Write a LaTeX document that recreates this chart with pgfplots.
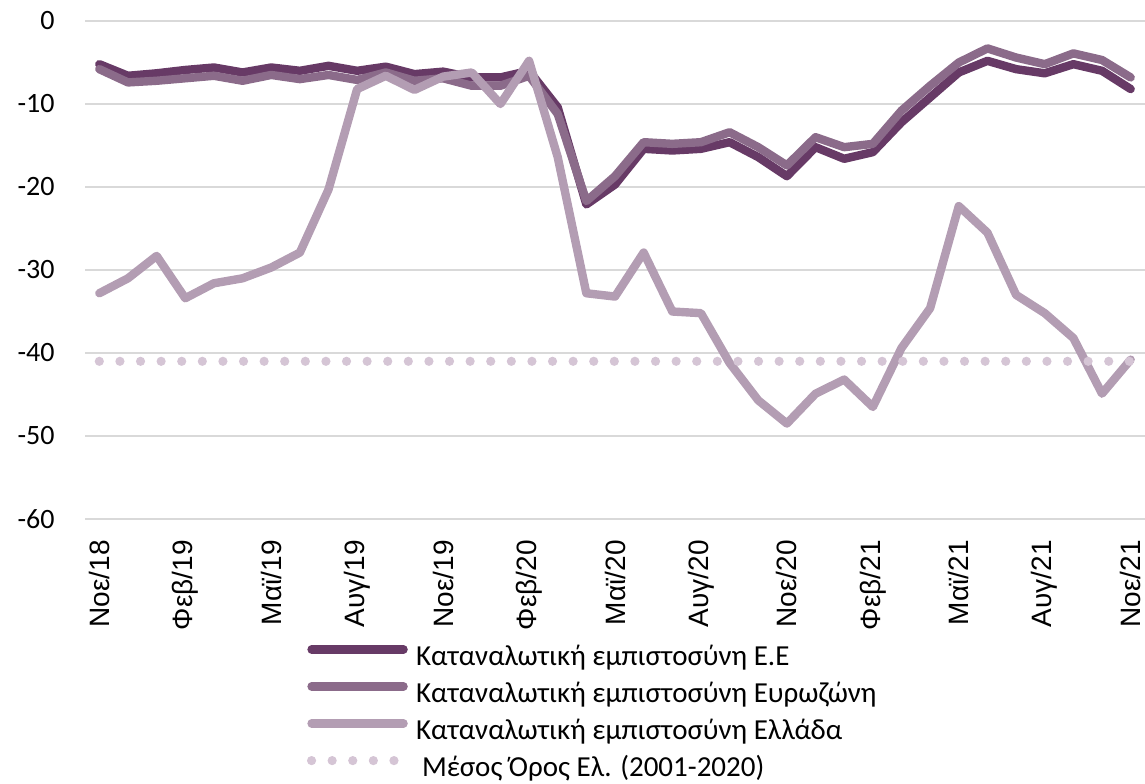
\documentclass[border=0pt]{standalone}
\usepackage{pgfplots}
\pgfplotsset{compat=1.18}
\usepackage{pgfplotstable}
\usepackage{fontspec}
\setmainfont{Carlito}
\newfontfamily\arialf{Liberation Sans}
\definecolor{cEU}{HTML}{673A66}
\definecolor{cEA}{HTML}{8B6B8A}
\definecolor{cGR}{HTML}{B39DB3}
\definecolor{cAV}{HTML}{D5C5D5}
\definecolor{cGrid}{HTML}{D9D9D9}

\pgfplotstableread{
x y
0 -5.2
1 -6.6
2 -6.3
3 -5.9
4 -5.6
5 -6.2
6 -5.6
7 -6.0
8 -5.4
9 -6.0
10 -5.5
11 -6.4
12 -6.1
13 -6.8
14 -6.8
15 -6.0
16 -10.4
17 -22.1
18 -19.7
19 -15.4
20 -15.6
21 -15.4
22 -14.6
23 -16.4
24 -18.7
25 -15.2
26 -16.6
27 -15.8
28 -12.2
29 -9.2
30 -6.2
31 -4.8
32 -5.8
33 -6.3
34 -5.2
35 -6.0
36 -8.2
}\tabEU

\pgfplotstableread{
x y
0 -5.8
1 -7.4
2 -7.2
3 -6.9
4 -6.6
5 -7.2
6 -6.5
7 -7.0
8 -6.5
9 -7.1
10 -6.2
11 -7.2
12 -6.9
13 -7.8
14 -7.8
15 -6.6
16 -11.2
17 -21.7
18 -18.7
19 -14.6
20 -14.8
21 -14.6
22 -13.4
23 -15.2
24 -17.4
25 -14.0
26 -15.2
27 -14.8
28 -10.8
29 -7.8
30 -5.0
31 -3.3
32 -4.4
33 -5.2
34 -3.9
35 -4.7
36 -6.8
}\tabEA

\pgfplotstableread{
x y
0 -32.8
1 -31.0
2 -28.3
3 -33.4
4 -31.6
5 -31.0
6 -29.7
7 -27.9
8 -20.3
9 -8.2
10 -6.6
11 -8.3
12 -6.7
13 -6.2
14 -10.0
15 -4.8
16 -16.4
17 -32.8
18 -33.2
19 -27.9
20 -35.0
21 -35.2
22 -41.2
23 -45.7
24 -48.5
25 -44.9
26 -43.2
27 -46.5
28 -39.4
29 -34.6
30 -22.3
31 -25.5
32 -33.0
33 -35.2
34 -38.2
35 -44.9
36 -40.8
}\tabGR

\pgfplotstableread{
x y
0 -41
36 -41
}\tabAV

\begin{document}
\begin{tikzpicture}
\useasboundingbox (0,0) rectangle (572.5pt,391.5pt);
\begin{axis}[
  at={(42.5pt,132pt)}, anchor=south west,
  width=530pt, height=249pt, scale only axis,
  xmin=-0.5, xmax=36.5, ymin=-60, ymax=0,
  axis line style={draw=none},
  tick style={draw=none},
  major tick length=0pt,
  ytick={-60,-50,-40,-30,-20,-10,0},
  yticklabels={-60,-50,-40,-30,-20,-10,0},
  xtick={0,3,...,36},
  xticklabels={Νοε/18,Φεβ/19,Μαϊ/19,Αυγ/19,Νοε/19,Φεβ/20,Μαϊ/20,Αυγ/20,Νοε/20,Φεβ/21,Μαϊ/21,Αυγ/21,Νοε/21},
  ymajorgrids,
  grid style={draw=cGrid, line width=1pt},
  y tick label style={font=\fontsize{14}{17}\selectfont, anchor=east, inner sep=0pt, xshift=-15pt},
  x tick label style={font=\arialf\fontsize{14}{17}\selectfont, yshift=-10.5pt, rotate=90, anchor=east, inner sep=0pt},
  legend cell align=left,
  legend style={at={(0.2094,-0.253)}, anchor=north west, draw=none, fill=none,
    inner sep=0pt, outer sep=0pt, row sep=5pt, column sep=4pt,
    font=\fontsize{14.5}{17}\selectfont,
    nodes={inner sep=0pt, text height=10pt, text depth=3.5pt}},
  legend image code/.code={\draw[#1] (0pt,4.5pt) -- (46pt,4.5pt);},
]
\addplot[cEU, line width=4.2pt, line join=round, line cap=round] table[x=x,y=y] {\tabEU};
\addlegendentry{Καταναλωτική εμπιστοσύνη Ε.Ε}
\addplot[cEA, line width=4.2pt, line join=round, line cap=round] table[x=x,y=y] {\tabEA};
\addlegendentry{Καταναλωτική εμπιστοσύνη Ευρωζώνη}
\addplot[cGR, line width=4.2pt, line join=round, line cap=round] table[x=x,y=y] {\tabGR};
\addlegendentry{Καταναλωτική εμπιστοσύνη Ελλάδα}
\addplot[cAV, line width=4.6pt, line cap=round, dash pattern=on 0pt off 10.3pt] table[x=x,y=y] {\tabAV};
\addlegendentry{\hspace{3pt}Μέσος Όρος Ελ. (2001-2020)}
\end{axis}
\end{tikzpicture}
\end{document}
